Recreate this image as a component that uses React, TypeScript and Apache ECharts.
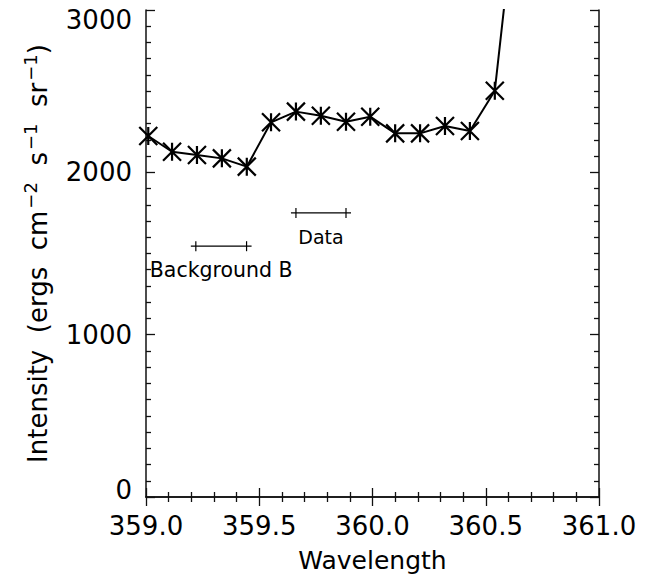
import React, { useEffect, useRef } from "react";
import * as echarts from "echarts";

// Measured spectrum: wavelength (nm) and intensity
const wavelengths = [
  359.01, 359.115, 359.225, 359.335, 359.445, 359.552, 359.662, 359.772,
  359.883, 359.99, 360.1, 360.21, 360.32, 360.43, 360.54, 360.65,
];
const intensities = [
  2224, 2127, 2107, 2086, 2035, 2308, 2374, 2349, 2312, 2343, 2240, 2240,
  2285, 2255, 2503, 3880,
];

// Wavelength windows used for the background and the data
const rangeLabels = ["Background B", "Data"];
const rangeStart = [359.22, 359.662];
const rangeEnd = [359.444, 359.883];
const rangeLevel = [1545, 1750];

const xTicks = [359.0, 359.5, 360.0, 360.5, 361.0];
const yTicks = [0, 1000, 2000, 3000];

const FONT = "DejaVu Sans";

// IDL-style asterisk marker: an X with a vertical bar through it
const ASTERISK = "path://M0,0L20,20M20,0L0,20M10,0L10,20";

export default function App() {
  const ref = useRef<HTMLDivElement>(null);

  useEffect(() => {
    if (!ref.current) return;
    const chart = echarts.init(ref.current, undefined, { renderer: "svg" });

    const xMin = xTicks[0];
    const xMax = xTicks[xTicks.length - 1];
    const yMin = yTicks[0];
    const yMax = yTicks[yTicks.length - 1];

    const axisLine = { show: true, lineStyle: { color: "#111", width: 1.5 } };
    const tickStyle = { color: "#111", width: 1.3 };

    const ranges = rangeLabels.map((_, i) => [rangeStart[i], rangeEnd[i], rangeLevel[i]]);

    chart.setOption({
      animation: false,
      backgroundColor: "#fff",
      grid: { left: 146, right: 57, top: 10, bottom: 83, containLabel: false },
      xAxis: [
        {
          type: "value",
          min: xMin,
          max: xMax,
          interval: 0.5,
          position: "bottom",
          axisLine,
          axisTick: { show: true, inside: true, length: 9, lineStyle: tickStyle },
          minorTick: { show: true, splitNumber: 5, length: 5, lineStyle: tickStyle },
          splitLine: { show: false },
          axisLabel: {
            margin: 16,
            fontSize: 26,
            fontFamily: FONT,
            color: "#000",
            formatter: (v: number) => v.toFixed(1),
          },
          name: "Wavelength",
          nameLocation: "middle",
          nameGap: 51,
          nameTextStyle: { fontSize: 25, fontFamily: FONT, color: "#000" },
        },
        {
          type: "value",
          min: xMin,
          max: xMax,
          interval: 0.5,
          position: "top",
          axisLine,
          axisTick: { show: true, inside: true, length: 9, lineStyle: tickStyle },
          minorTick: { show: true, splitNumber: 5, length: 5, lineStyle: tickStyle },
          splitLine: { show: false },
          axisLabel: { show: false },
        },
      ],
      yAxis: [
        {
          type: "value",
          min: yMin,
          max: yMax,
          interval: 1000,
          position: "left",
          axisLine,
          axisTick: { show: true, inside: true, length: 9, lineStyle: tickStyle },
          minorTick: { show: true, splitNumber: 10, length: 5, lineStyle: tickStyle },
          splitLine: { show: false },
          axisLabel: {
            margin: 14,
            fontSize: 26,
            fontFamily: FONT,
            color: "#000",
            formatter: (v: number) =>
              v === yMax ? `{top|${v}}` : v === yMin ? `{bot|${v}}` : `${v}`,
            rich: {
              top: { fontSize: 26, fontFamily: FONT, color: "#000", padding: [20, 0, 0, 0] },
              bot: { fontSize: 26, fontFamily: FONT, color: "#000", padding: [0, 0, 14, 0] },
            },
          },
          name:
            "{t|Intensity  (ergs  cm}{s|−2}{t|  s}{s|−1}{t|  sr}{s|−1}{t|)}",
          nameLocation: "middle",
          nameRotate: 90,
          nameGap: 95,
          nameTextStyle: {
            color: "#000",
            rich: {
              t: { fontSize: 26, fontFamily: FONT, color: "#000", verticalAlign: "bottom" },
              s: {
                fontSize: 18,
                fontFamily: FONT,
                color: "#000",
                verticalAlign: "bottom",
                padding: [0, 0, 12, 2],
              },
            },
          },
        },
        {
          type: "value",
          min: yMin,
          max: yMax,
          interval: 1000,
          position: "right",
          axisLine,
          axisTick: { show: true, inside: true, length: 9, lineStyle: tickStyle },
          minorTick: { show: true, splitNumber: 10, length: 5, lineStyle: tickStyle },
          splitLine: { show: false },
          axisLabel: { show: false },
        },
      ],
      series: [
        {
          type: "line",
          xAxisIndex: 0,
          yAxisIndex: 0,
          data: wavelengths.map((w, i) => [w, intensities[i]]),
          clip: true,
          symbol: ASTERISK,
          symbolSize: 18,
          showAllSymbol: true,
          lineStyle: { color: "#000", width: 2 },
          itemStyle: { color: "transparent", borderColor: "#000", borderWidth: 2.2 },
          emphasis: { disabled: true },
        },
        {
          type: "custom",
          xAxisIndex: 0,
          yAxisIndex: 0,
          data: ranges,
          encode: { x: [0, 1], y: 2 },
          renderItem: (params: any, api: any) => {
            const a = api.coord([api.value(0), api.value(2)]);
            const b = api.coord([api.value(1), api.value(2)]);
            const ext = 5;
            const h = 5;
            const stroke = { stroke: "#000", lineWidth: 1.2 };
            const labelGap = params.dataIndex === 0 ? 13 : 15;
            return {
              type: "group",
              children: [
                {
                  type: "line",
                  shape: { x1: a[0] - ext, y1: a[1], x2: b[0] + ext, y2: b[1] },
                  style: stroke,
                },
                {
                  type: "line",
                  shape: { x1: a[0], y1: a[1] - h, x2: a[0], y2: a[1] + h },
                  style: stroke,
                },
                {
                  type: "line",
                  shape: { x1: b[0], y1: b[1] - h, x2: b[0], y2: b[1] + h },
                  style: stroke,
                },
                {
                  type: "text",
                  x: (a[0] + b[0]) / 2,
                  y: a[1] + labelGap,
                  style: {
                    text: rangeLabels[params.dataIndex],
                    fill: "#000",
                    fontSize: params.dataIndex === 0 ? 20.5 : 19,
                    fontFamily: FONT,
                    align: "center",
                    verticalAlign: "top",
                  },
                },
              ],
            };
          },
        },
      ],
    });

    return () => chart.dispose();
  }, []);

  return (
    <div
      ref={ref}
      style={{ position: "fixed", left: 0, top: 0, width: 656, height: 580, background: "#fff" }}
    />
  );
}
